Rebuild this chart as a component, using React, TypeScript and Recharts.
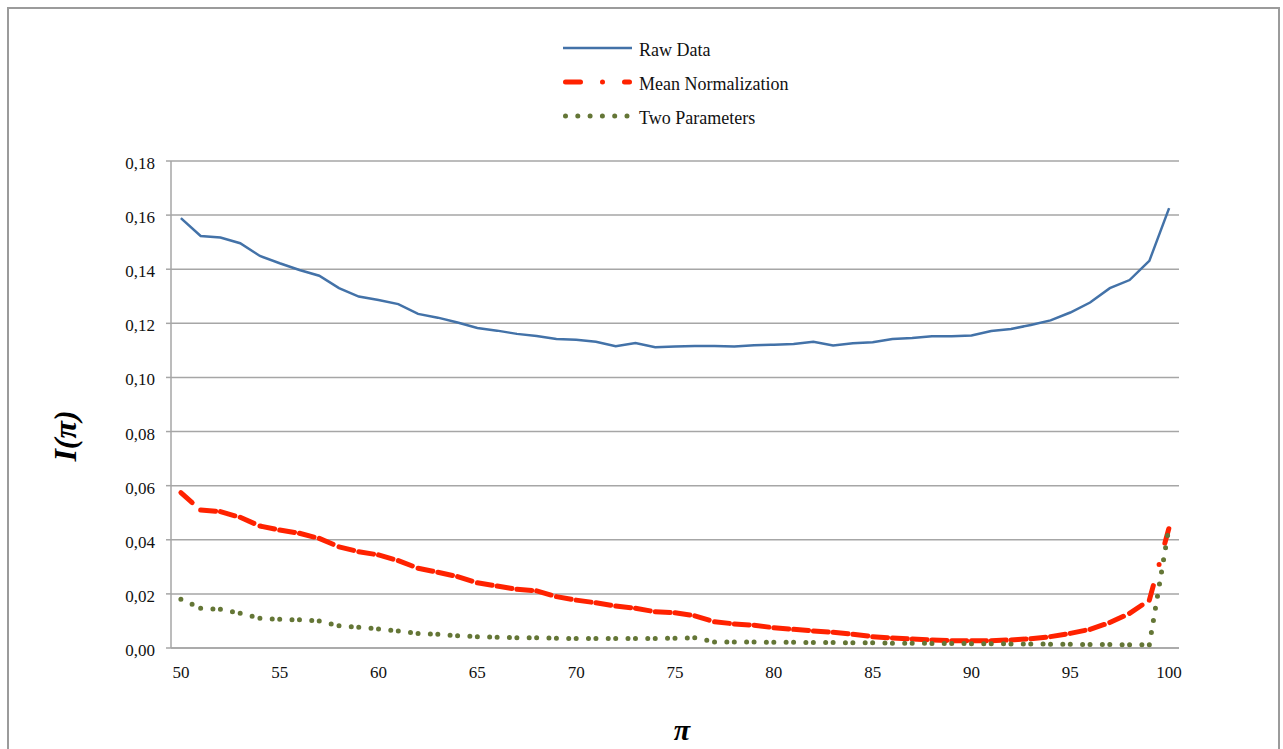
import React from 'react';
import { LineChart, Line, XAxis, YAxis, CartesianGrid, Legend } from 'recharts';

const piValues = [
  50, 51, 52, 53, 54, 55, 56, 57, 58, 59,
  60, 61, 62, 63, 64, 65, 66, 67, 68, 69,
  70, 71, 72, 73, 74, 75, 76, 77, 78, 79,
  80, 81, 82, 83, 84, 85, 86, 87, 88, 89,
  90, 91, 92, 93, 94, 95, 96, 97, 98, 99,
  100,
];

const rawData = [
  0.1589, 0.1523, 0.1517, 0.1496, 0.1449, 0.1422, 0.1397, 0.1376, 0.1330, 0.1299,
  0.1286, 0.1271, 0.1235, 0.1221, 0.1203, 0.1183, 0.1173, 0.1161, 0.1153, 0.1142,
  0.1139, 0.1132, 0.1115, 0.1127, 0.1112, 0.1114, 0.1116, 0.1116, 0.1114, 0.1119,
  0.1121, 0.1124, 0.1132, 0.1118, 0.1126, 0.1130, 0.1142, 0.1146, 0.1152, 0.1152,
  0.1155, 0.1172, 0.1179, 0.1194, 0.1211, 0.1240, 0.1277, 0.1330, 0.1360, 0.1431,
  0.1626,
];

const meanNormalization = [
  0.0574, 0.0510, 0.0504, 0.0483, 0.0451, 0.0436, 0.0424, 0.0405, 0.0374, 0.0356,
  0.0344, 0.0323, 0.0295, 0.0280, 0.0264, 0.0241, 0.0229, 0.0217, 0.0211, 0.0190,
  0.0177, 0.0167, 0.0155, 0.0147, 0.0134, 0.0130, 0.0119, 0.0097, 0.0089, 0.0084,
  0.0075, 0.0069, 0.0063, 0.0058, 0.0051, 0.0042, 0.0037, 0.0033, 0.0030, 0.0027,
  0.0027, 0.0027, 0.0030, 0.0034, 0.0042, 0.0054, 0.0069, 0.0094, 0.0128, 0.0177,
  0.0445,
];

const twoParameters = [
  0.0180, 0.0147, 0.0143, 0.0128, 0.0110, 0.0106, 0.0104, 0.0100, 0.0082, 0.0077,
  0.0070, 0.0063, 0.0054, 0.0051, 0.0045, 0.0042, 0.0040, 0.0038, 0.0038, 0.0036,
  0.0035, 0.0035, 0.0035, 0.0035, 0.0035, 0.0036, 0.0038, 0.0022, 0.0022, 0.0022,
  0.0021, 0.0021, 0.0020, 0.0020, 0.0019, 0.0019, 0.0018, 0.0018, 0.0017, 0.0017,
  0.0016, 0.0016, 0.0015, 0.0015, 0.0014, 0.0014, 0.0013, 0.0013, 0.0012, 0.0012,
  0.0449,
];

const xTicks = [50, 55, 60, 65, 70, 75, 80, 85, 90, 95, 100];
const yTicks = [0, 0.02, 0.04, 0.06, 0.08, 0.1, 0.12, 0.14, 0.16, 0.18];

const seriesKeys = ['raw', 'mean', 'two'];
const seriesNames = ['Raw Data', 'Mean Normalization', 'Two Parameters'];
const seriesColors = ['#4372a8', '#ff2200', '#647636'];

const xLabel = 'π';
const yLabel = 'I(π)';

const data = piValues.map((x, i) => ({
  x,
  raw: rawData[i],
  mean: meanNormalization[i],
  two: twoParameters[i],
}));

const FONT = "'Liberation Serif', 'Times New Roman', serif";
const GRID = '#a6a6a6';
const RED_DASH = '15 22 0 22';
const GREEN_DOT = '0 12.3';

function segmentRenderer(name: string, color: string, width: number, dash: string) {
  return (props: any) => {
    const { index, points, cx, cy } = props;
    const next = points ? points[index + 1] : null;
    if (!next || cx == null || cy == null) return <g key={`${name}-seg-${index}`} />;
    return (
      <line
        key={`${name}-seg-${index}`}
        x1={cx}
        y1={cy}
        x2={next.x}
        y2={next.y}
        stroke={color}
        strokeWidth={width}
        strokeDasharray={dash}
        strokeLinecap="round"
        fill="none"
      />
    );
  };
}

const legendStyles = [
  { width: 2.5, dash: undefined as string | undefined, cap: 'butt' as const },
  { width: 5, dash: RED_DASH, cap: 'round' as const },
  { width: 5, dash: GREEN_DOT, cap: 'round' as const },
];

const renderLegend = () => (
  <svg width={260} height={100} style={{ display: 'block', overflow: 'visible' }}>
    {seriesNames.map((name, i) => {
      const y = 17 + i * 34;
      const st = legendStyles[i];
      const x1 = st.cap === 'round' ? 12.5 : 10;
      const x2 = st.cap === 'round' ? 76.5 : 79;
      return (
        <g key={name}>
          <line
            x1={x1}
            y1={y}
            x2={x2}
            y2={y}
            stroke={seriesColors[i]}
            strokeWidth={st.width}
            strokeDasharray={st.dash}
            strokeLinecap={st.cap}
          />
          <text x={86} y={y + 8} style={{ fontFamily: FONT, fontSize: 18 }} fill="#111">
            {name}
          </text>
        </g>
      );
    })}
  </svg>
);

const fmt = (v: number) => v.toFixed(2).replace('.', ',');

export default function App() {
  return (
    <div
      style={{
        position: 'fixed',
        left: 7,
        top: 7,
        width: 1273,
        height: 800,
        border: '2px solid #9b9b9b',
        boxSizing: 'border-box',
        background: '#ffffff',
        fontFamily: FONT,
      }}
    >
      <LineChart
        width={1269}
        height={740}
        data={data}
        margin={{ top: 152, right: 99, bottom: 61, left: 0 }}
        style={{ fontFamily: FONT }}
      >
        <CartesianGrid horizontal vertical={false} stroke={GRID} strokeWidth={1.5} />
        <XAxis
          dataKey="x"
          type="number"
          domain={[49.5, 100.5]}
          ticks={xTicks}
          interval={0}
          height={40}
          tickLine={false}
          tickSize={0}
          tickMargin={18}
          axisLine={{ stroke: GRID, strokeWidth: 1.5 }}
          tick={{ fontFamily: FONT, fontSize: 17, fill: '#111' }}
        />
        <YAxis
          type="number"
          domain={[0, 0.18]}
          ticks={yTicks}
          interval={0}
          width={162}
          tickSize={5}
          tickMargin={11}
          tickFormatter={fmt}
          tickLine={{ stroke: GRID, strokeWidth: 1.5 }}
          axisLine={{ stroke: GRID, strokeWidth: 1.5 }}
          tick={{ fontFamily: FONT, fontSize: 17, fill: '#111', dy: 2 }}
        />
        <Legend
          layout="vertical"
          align="center"
          verticalAlign="middle"
          content={renderLegend}
          wrapperStyle={{ left: 544, top: 22, width: 260, height: 100 }}
        />
        <Line
          dataKey={seriesKeys[0]}
          name={seriesNames[0]}
          stroke={seriesColors[0]}
          strokeWidth={2.5}
          dot={false}
          activeDot={false}
          isAnimationActive={false}
        />
        <Line
          dataKey={seriesKeys[1]}
          name={seriesNames[1]}
          stroke="none"
          strokeWidth={0}
          dot={segmentRenderer('mean', seriesColors[1], 5, RED_DASH)}
          activeDot={false}
          isAnimationActive={false}
        />
        <Line
          dataKey={seriesKeys[2]}
          name={seriesNames[2]}
          stroke="none"
          strokeWidth={0}
          dot={segmentRenderer('two', seriesColors[2], 5, GREEN_DOT)}
          activeDot={false}
          isAnimationActive={false}
        />
      </LineChart>
      <div
        style={{
          position: 'absolute',
          left: 56,
          top: 427,
          transform: 'translate(-50%, -50%) rotate(-90deg)',
          fontFamily: FONT,
          fontWeight: 'bold',
          fontStyle: 'italic',
          fontSize: 32,
          whiteSpace: 'nowrap',
          lineHeight: 1,
          color: '#000',
        }}
      >
        {yLabel}
      </div>
      <div
        style={{
          position: 'absolute',
          left: 673,
          top: 721,
          transform: 'translate(-50%, -50%)',
          fontFamily: FONT,
          fontWeight: 'bold',
          fontStyle: 'italic',
          fontSize: 30,
          whiteSpace: 'nowrap',
          lineHeight: 1,
          color: '#000',
        }}
      >
        {xLabel}
      </div>
    </div>
  );
}
